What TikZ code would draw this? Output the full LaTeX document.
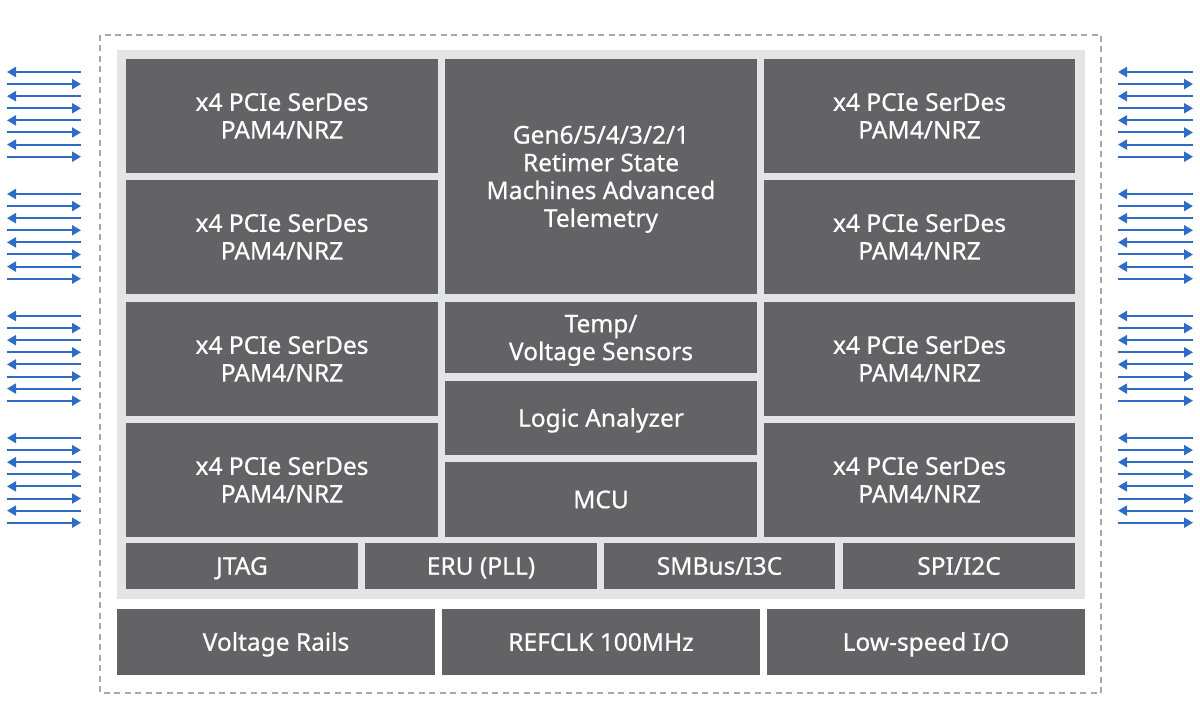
\documentclass[tikz,border=0pt]{standalone}
\usepackage{fontspec}
\setmainfont{Noto Sans}[FakeBold=0.6]
\usetikzlibrary{arrows.meta}
\definecolor{blkgray}{HTML}{636366}
\definecolor{framegray}{HTML}{E3E4E6}
\definecolor{dashgray}{HTML}{A8A8A8}
\definecolor{lanblue}{HTML}{2E6CC6}
\tikzset{
  blk/.style={fill=blkgray, draw=none, text=white, align=center, inner sep=0pt,
    font=\fontsize{24.5}{27.8}\bfseries},
  lane/.style={draw=lanblue, line width=2pt},
  lanetip/.style={-{Triangle[length=9pt,width=10pt]}},
}
\newcommand{\Ln}[1]{\rule{0pt}{0.714em}\smash{#1}}
\newcommand{\mkblk}[6]{% name, x1, y1, x2, y2, text
  \pgfmathsetmacro{\bcx}{(#2+#4)/2}\pgfmathsetmacro{\bcy}{(#3+#5)/2}%
  \pgfmathsetmacro{\bw}{#4-#2}\pgfmathsetmacro{\bh}{#5-#3}%
  \node[blk, minimum width=\bw pt, minimum height=\bh pt] (#1) at (\bcx,\bcy) {#6};}
\begin{document}
\begin{tikzpicture}[x=1pt,y=-1pt]
\useasboundingbox (0,0) rectangle (1200,714);
% dashed outline
\draw[dashgray, line width=1.2pt, dash pattern=on 6pt off 4.5pt] (100,35) rectangle (1101,693);
% light frame
\fill[framegray] (117,50) rectangle (1085,599);
% left column
\mkblk{L1}{126}{59}{438}{173}{\Ln{x4 PCIe SerDes}\\\Ln{PAM4/NRZ}}
\mkblk{L2}{126}{180}{438}{294}{\Ln{x4 PCIe SerDes}\\\Ln{PAM4/NRZ}}
\mkblk{L3}{126}{302}{438}{416}{\Ln{x4 PCIe SerDes}\\\Ln{PAM4/NRZ}}
\mkblk{L4}{126}{423}{438}{537}{\Ln{x4 PCIe SerDes}\\\Ln{PAM4/NRZ}}
% middle column
\mkblk{RT}{445}{59}{757}{294}{\Ln{Gen6/5/4/3/2/1}\\\Ln{Retimer State}\\\Ln{Machines Advanced}\\\Ln{Telemetry}}
\mkblk{TS}{445}{302}{757}{373}{\Ln{Temp/}\\\Ln{Voltage Sensors}}
\mkblk{LA}{445}{381}{757}{455}{\Ln{Logic Analyzer}}
\mkblk{MCU}{445}{462}{757}{537}{\Ln{MCU}}
% right column
\mkblk{R1}{764}{59}{1075}{173}{\Ln{x4 PCIe SerDes}\\\Ln{PAM4/NRZ}}
\mkblk{R2}{764}{180}{1075}{294}{\Ln{x4 PCIe SerDes}\\\Ln{PAM4/NRZ}}
\mkblk{R3}{764}{302}{1075}{416}{\Ln{x4 PCIe SerDes}\\\Ln{PAM4/NRZ}}
\mkblk{R4}{764}{423}{1075}{537}{\Ln{x4 PCIe SerDes}\\\Ln{PAM4/NRZ}}
% bottom row in frame
\mkblk{JT}{126}{543}{358}{589}{\Ln{JTAG}}
\mkblk{ERU}{365}{543}{597}{589}{\Ln{ERU (PLL)}}
\mkblk{SMB}{604}{543}{835}{589}{\Ln{SMBus/I3C}}
\mkblk{SPI}{843}{543}{1075}{589}{\Ln{SPI/I2C}}
% lower row
\mkblk{VR}{117}{609}{435}{675}{\Ln{Voltage Rails}}
\mkblk{RC}{442}{609}{760}{675}{\Ln{REFCLK 100MHz}}
\mkblk{LS}{767}{609}{1085}{675}{\Ln{Low-speed I/O}}
% lanes
\foreach \g in {72,194,316,438}{
  \foreach \k in {0,2,4,6}{
    \pgfmathsetmacro{\ya}{\g+\k*12.1}
    \pgfmathsetmacro{\yb}{\g+(\k+1)*12.1}
    \draw[lane, lanetip] (81,\ya) -- (7,\ya);
    \draw[lane, lanetip] (7,\yb) -- (81,\yb);
    \draw[lane, lanetip] (1193,\ya) -- (1118,\ya);
    \draw[lane, lanetip] (1118,\yb) -- (1193,\yb);
  }
}
\end{tikzpicture}
\end{document}
